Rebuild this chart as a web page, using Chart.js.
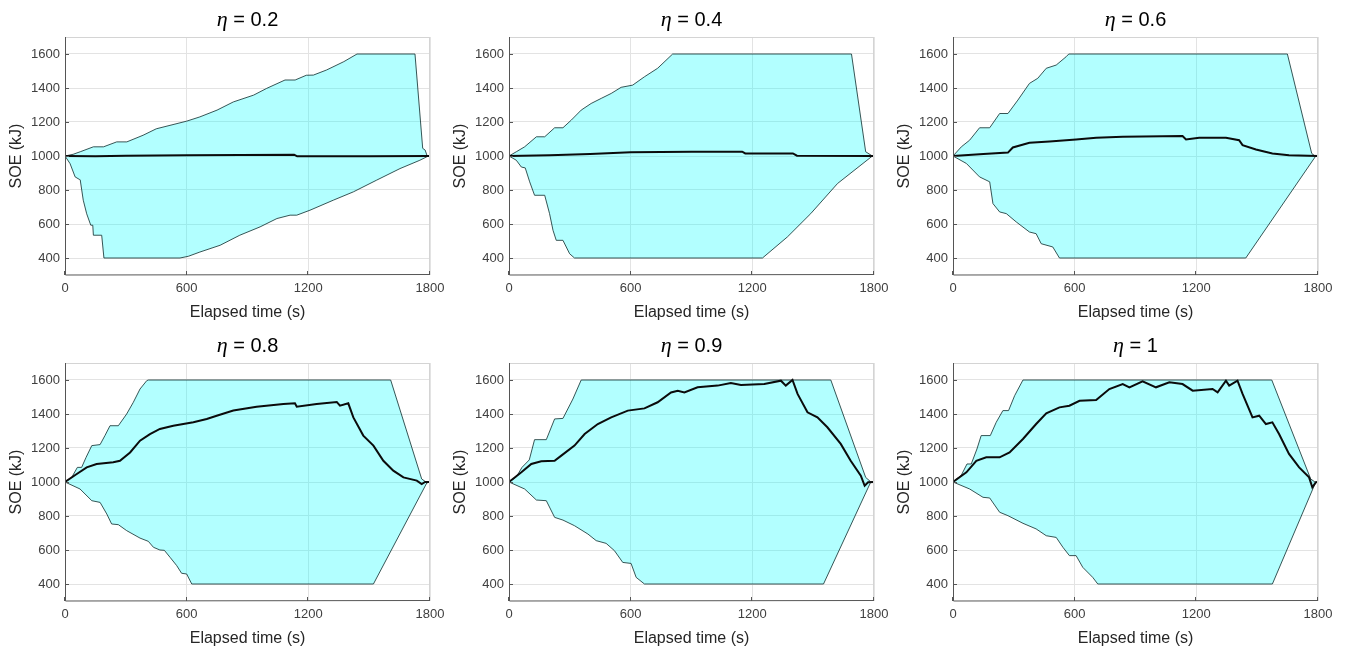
<!DOCTYPE html>
<html>
<head>
<meta charset="utf-8">
<title>SOE bounds for different eta</title>
<script src="https://cdn.jsdelivr.net/npm/chart.js@4.4.1/dist/chart.umd.min.js"></script>
<style>
  html, body { margin: 0; padding: 0; background: #fff; }
  #wrap { position: relative; width: 1347px; height: 649px; overflow: hidden; }
  #wrap canvas { position: absolute; }
</style>
</head>
<body>
<div id="wrap"></div>
<script>
// Axis ticks and panel titles
const xTicks = [0, 600, 1200, 1800];
const yTicks = [400, 600, 800, 1000, 1200, 1400, 1600];
const etaLabels = ['0.2', '0.4', '0.6', '0.8', '0.9', '1'];

// [elapsed time (s), SOE (kJ)], one set per panel
const upper02 = [[0,1000],[40,1010],[75,1025],[140,1054],[190,1054],[255,1083],[305,1083],[385,1122],[450,1160],[600,1205],[665,1230],[750,1270],[830,1318],[930,1358],[995,1398],[1085,1447],[1135,1447],[1190,1475],[1225,1476],[1290,1506],[1375,1555],[1440,1600],[1726,1600],[1764,1045],[1776,1035],[1786,1000],[1800,1000]];
const lower02 = [[0,1000],[25,955],[50,877],[70,863],[75,860],[90,740],[107,660],[127,593],[137,593],[140,534],[181,534],[192,400],[567,400],[608,410],[665,435],[765,475],[862,534],[962,583],[1045,632],[1110,652],[1143,652],[1208,681],[1323,740],[1422,789],[1537,858],[1652,926],[1750,975],[1792,1000],[1800,1000]];
const soe02 = [[0,1000],[150,998],[300,1001],[600,1005],[1130,1008],[1145,998],[1500,998],[1800,1000]];

const upper04 = [[0,1000],[36,1025],[77,1054],[135,1113],[176,1113],[225,1166],[266,1166],[307,1211],[356,1270],[405,1309],[455,1339],[504,1368],[553,1404],[610,1417],[668,1466],[733,1516],[807,1600],[1689,1600],[1759,1025],[1792,1000],[1800,1000]];
const lower04 = [[0,1000],[36,975],[61,935],[80,930],[102,848],[126,769],[176,769],[200,661],[217,563],[233,504],[266,504],[299,425],[323,400],[1250,400],[1373,524],[1488,661],[1620,838],[1792,1000],[1800,1000]];
const soe04 = [[0,1000],[200,1005],[400,1012],[600,1022],[900,1025],[1150,1025],[1165,1015],[1400,1015],[1420,1002],[1800,1000]];

const upper06 = [[0,1000],[41,1054],[82,1093],[131,1166],[181,1166],[230,1250],[271,1250],[320,1329],[377,1427],[418,1457],[460,1516],[509,1535],[558,1584],[571,1600],[1649,1600],[1769,1015],[1785,1000],[1800,1000]];
const lower06 = [[0,1000],[66,956],[131,877],[181,848],[197,720],[230,671],[263,661],[312,612],[377,553],[410,543],[435,484],[492,465],[525,400],[1444,400],[1789,1000],[1800,1000]];
const soe06 = [[0,1000],[150,1012],[271,1020],[295,1050],[377,1078],[476,1085],[607,1097],[706,1107],[837,1113],[1132,1117],[1149,1097],[1214,1107],[1346,1107],[1411,1093],[1428,1064],[1494,1038],[1575,1015],[1657,1005],[1800,1000]];

const upper08 = [[0,1000],[33,1027],[61,1086],[82,1086],[104,1145],[132,1214],[173,1220],[197,1273],[222,1331],[263,1331],[304,1400],[337,1469],[370,1547],[403,1596],[411,1600],[1606,1600],[1759,1018],[1780,1000],[1800,1000]];
const lower08 = [[0,1000],[74,959],[132,890],[173,880],[206,812],[230,753],[263,749],[304,714],[370,670],[411,651],[436,616],[468,600],[490,598],[518,557],[551,508],[575,463],[600,459],[625,400],[1521,400],[1784,994],[1800,1000]];
const soe08 = [[0,1000],[58,1047],[107,1086],[156,1106],[238,1116],[271,1125],[321,1174],[370,1243],[419,1282],[468,1312],[534,1331],[633,1351],[699,1371],[748,1390],[830,1420],[945,1443],[1077,1459],[1134,1463],[1143,1443],[1241,1459],[1340,1471],[1356,1449],[1397,1463],[1422,1380],[1471,1273],[1521,1214],[1570,1125],[1619,1067],[1669,1027],[1735,1008],[1759,988],[1776,1000],[1800,1000]];

const upper09 = [[0,1000],[36,1030],[64,1086],[100,1130],[126,1249],[184,1249],[225,1371],[266,1374],[315,1488],[356,1600],[1587,1600],[1759,1027],[1785,1000],[1800,1000]];
const lower09 = [[0,1000],[77,959],[135,894],[184,890],[225,792],[266,776],[323,743],[389,694],[430,655],[479,639],[520,596],[561,527],[602,521],[627,439],[668,400],[1551,400],[1784,1000],[1800,1000]];
const soe09 = [[0,1000],[61,1057],[110,1106],[159,1122],[225,1125],[258,1155],[323,1214],[373,1282],[438,1341],[504,1380],[586,1420],[668,1433],[733,1469],[799,1527],[832,1537],[865,1527],[930,1557],[1029,1567],[1094,1582],[1144,1571],[1259,1576],[1341,1596],[1365,1567],[1398,1600],[1423,1518],[1472,1410],[1521,1380],[1570,1322],[1636,1224],[1685,1125],[1735,1037],[1754,978],[1771,998],[1800,1000]];

const upper1 = [[0,1000],[41,1040],[69,1106],[90,1106],[118,1194],[139,1273],[184,1273],[213,1351],[246,1420],[274,1420],[304,1508],[345,1600],[1572,1600],[1764,1018],[1785,1000],[1800,1000]];
const lower1 = [[0,1000],[82,959],[148,910],[181,906],[230,822],[271,802],[345,757],[410,724],[460,684],[509,674],[542,616],[574,567],[607,567],[640,498],[689,439],[714,400],[1575,400],[1789,1000],[1800,1000]];
const soe1 = [[0,1000],[66,1057],[115,1125],[164,1145],[230,1145],[279,1174],[345,1253],[410,1341],[460,1404],[525,1439],[574,1449],[624,1478],[706,1482],[771,1547],[837,1576],[870,1557],[935,1592],[1001,1557],[1067,1586],[1132,1576],[1182,1537],[1280,1547],[1305,1527],[1346,1596],[1362,1567],[1403,1596],[1428,1518],[1477,1380],[1510,1390],[1543,1341],[1575,1351],[1608,1282],[1657,1165],[1707,1086],[1756,1027],[1772,969],[1789,998],[1800,1000]];

const panels = [
    { eta: etaLabels[0], upper: upper02, lower: lower02, soe: soe02 },
    { eta: etaLabels[1], upper: upper04, lower: lower04, soe: soe04 },
    { eta: etaLabels[2], upper: upper06, lower: lower06, soe: soe06 },
    { eta: etaLabels[3], upper: upper08, lower: lower08, soe: soe08 },
    { eta: etaLabels[4], upper: upper09, lower: lower09, soe: soe09 },
    { eta: etaLabels[5], upper: upper1, lower: lower1, soe: soe1 },
];

const FONT = '"Liberation Sans", Arial, Helvetica, sans-serif';
Chart.defaults.font.family = FONT;

const toXY = (pts) => pts.map(([x, y]) => ({ x, y }));

// Title drawn by hand: italic serif eta followed by an upright " = value"
const etaTitle = {
    id: 'etaTitle',
    afterDraw(chart, args, opts) {
        const { ctx, chartArea } = chart;
        const cx = (chartArea.left + chartArea.right) / 2;
        const etaFont = 'italic 22px "Liberation Serif", "DejaVu Serif", serif';
        const restFont = '20px ' + FONT;
        const rest = ' = ' + opts.text;
        ctx.save();
        ctx.font = etaFont;
        const w1 = ctx.measureText('η').width;
        ctx.font = restFont;
        const w2 = ctx.measureText(rest).width;
        const x = cx - (w1 + w2) / 2;
        ctx.fillStyle = '#000';
        ctx.textBaseline = 'alphabetic';
        ctx.font = etaFont;
        ctx.fillText('η', x, 26);
        ctx.font = restFont;
        ctx.fillText(rest, x + w1, 26);
        ctx.restore();
    },
};

// MATLAB-like box: dark left/bottom axes with inward ticks, light top/right edges
const axesFrame = {
    id: 'axesFrame',
    afterDatasetsDraw(chart) {
        const { ctx, chartArea: a, scales } = chart;
        ctx.save();
        ctx.lineWidth = 1;
        ctx.strokeStyle = '#d4d4d4';
        ctx.beginPath();
        ctx.moveTo(a.left, a.top + 0.5);
        ctx.lineTo(a.right, a.top + 0.5);
        ctx.moveTo(a.right - 0.5, a.top);
        ctx.lineTo(a.right - 0.5, a.bottom);
        ctx.stroke();
        ctx.strokeStyle = '#555';
        ctx.beginPath();
        ctx.moveTo(a.left + 0.5, a.top);
        ctx.lineTo(a.left + 0.5, a.bottom);
        ctx.lineTo(a.right, a.bottom - 0.5);
        for (const v of yTicks) {
            const y = Math.round(scales.y.getPixelForValue(v)) + 0.5;
            ctx.moveTo(a.left, y);
            ctx.lineTo(a.left + 4, y);
        }
        for (const v of xTicks) {
            const x = Math.round(scales.x.getPixelForValue(v)) - 0.5;
            ctx.moveTo(x, a.bottom);
            ctx.lineTo(x, a.bottom - 4);
        }
        ctx.stroke();
        ctx.restore();
    },
};

const wrap = document.getElementById('wrap');
const colLeft = [0, 444, 888];
const rowTop = [0, 326];

panels.forEach((p, i) => {
    const canvas = document.createElement('canvas');
    // wider than the column so the "1800" label is not clipped; canvases are transparent
    canvas.width = 459;
    canvas.height = 322;
    canvas.style.left = colLeft[i % 3] + 'px';
    canvas.style.top = rowTop[Math.floor(i / 3)] + 'px';
    wrap.appendChild(canvas);

    new Chart(canvas, {
        type: 'line',
        data: {
            datasets: [
                // SOE trajectory first so it sits on top of the band
                { data: toXY(p.soe), borderColor: '#0b0b0b', borderWidth: 2, pointRadius: 0, fill: false, tension: 0 },
                { data: toXY(p.upper), borderColor: 'rgba(25,55,55,0.85)', borderWidth: 1, pointRadius: 0, backgroundColor: 'rgba(0,255,255,0.3)', fill: '+1', tension: 0 },
                { data: toXY(p.lower), borderColor: 'rgba(25,55,55,0.85)', borderWidth: 1, pointRadius: 0, fill: false, tension: 0 },
            ],
        },
        options: {
            responsive: false,
            animation: false,
            events: [],
            layout: { padding: { top: 37, right: 29, left: 0, bottom: 0 } },
            plugins: {
                legend: { display: false },
                tooltip: { enabled: false },
                filler: { drawTime: 'beforeDatasetsDraw' },
                etaTitle: { text: p.eta },
            },
            scales: {
                x: {
                    type: 'linear',
                    min: 0,
                    max: 1800,
                    afterBuildTicks: (s) => { s.ticks = xTicks.map((v) => ({ value: v })); },
                    afterFit: (s) => { s.height = 47; s.paddingLeft = 0; s.paddingRight = 0; },
                    ticks: { color: '#404040', font: { size: 13 }, padding: 6, maxRotation: 0, autoSkip: false, callback: (v) => String(v) },
                    grid: { color: '#e3e3e3', drawTicks: false },
                    border: { display: false },
                    title: { display: true, text: 'Elapsed time (s)', color: '#262626', font: { size: 16 }, padding: { top: 0, bottom: 0 } },
                },
                y: {
                    type: 'linear',
                    min: 300,
                    max: 1700,
                    afterBuildTicks: (s) => { s.ticks = yTicks.map((v) => ({ value: v })); },
                    afterFit: (s) => { s.width = 65; s.paddingTop = 0; s.paddingBottom = 0; },
                    ticks: { color: '#404040', font: { size: 13 }, padding: 5, autoSkip: false, callback: (v) => String(v) },
                    grid: { color: '#e3e3e3', drawTicks: false },
                    border: { display: false },
                    title: { display: true, text: 'SOE (kJ)', color: '#262626', font: { size: 16 }, padding: { top: 7, bottom: 0 } },
                },
            },
        },
        plugins: [etaTitle, axesFrame],
    });
});
</script>
</body>
</html>
